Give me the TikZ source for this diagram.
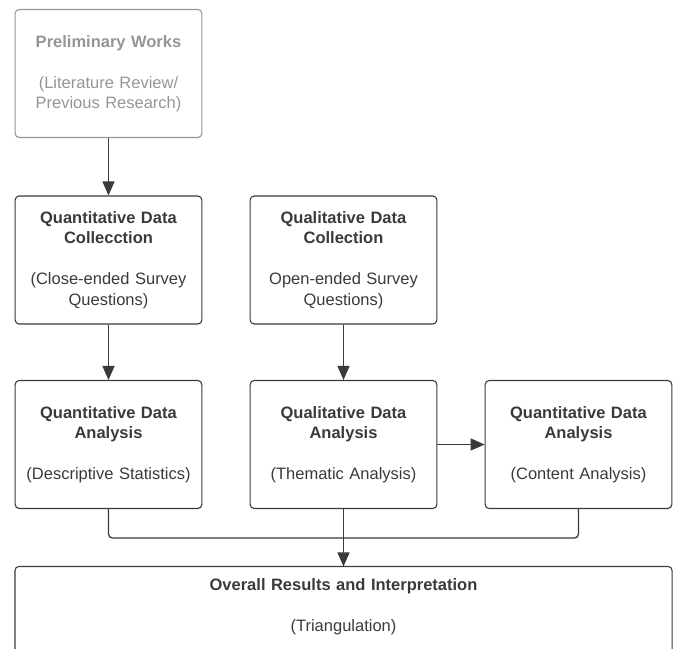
\documentclass[tikz,border=0pt]{standalone}
\usepackage{fontspec}
\setmainfont{Liberation Sans}
\usetikzlibrary{arrows.meta}
\definecolor{linegray}{HTML}{3A3A3A}
\definecolor{fadegray}{HTML}{959595}
\tikzset{
	box/.style={draw=linegray, line width=1.1pt, rounded corners=4pt, align=center,
		minimum width=185pt, minimum height=128pt, text width=180pt,
		font=\fontsize{16.5}{20.5}\selectfont, text=linegray},
	arrow/.style={draw=linegray, line width=1.3pt, -{Triangle[length=14pt,width=12pt]}},
}
\begin{document}
\begin{tikzpicture}[x=1pt, y=-1pt]
	\useasboundingbox (0, 0) rectangle (676, 648);

	\node[box, draw=fadegray, text=fadegray] (prelim) at (108.5, 73.5)
		{\textbf{Preliminary Works}\\[20.5pt](Literature Review/\\Previous Research)};
	\node[box] (qncoll) at (108.5, 260) {\textbf{Quantitative Data}\\\textbf{Collecction}\\[20.5pt](Close-ended Survey\\Questions)};
	\node[box] (qlcoll) at (343.5, 260) {\textbf{Qualitative Data}\\\textbf{Collection}\\[20.5pt]Open-ended Survey\\Questions)};
	\node[box] (qnana) at (108.5, 444.5) {\textbf{Quantitative Data}\\\textbf{Analysis}\\[20.5pt](Descriptive Statistics)};
	\node[box] (qlana) at (343.5, 444.5) {\textbf{Qualitative Data}\\\textbf{Analysis}\\[20.5pt](Thematic Analysis)};
	\node[box] (content) at (578.5, 444.5) {\textbf{Quantitative Data}\\\textbf{Analysis}\\[20.5pt](Content Analysis)};
	\node[box, draw=none, minimum width=656pt, text width=600pt, minimum height=80pt] (results) at (343.5, 607)
		{\textbf{Overall Results and Interpretation}\\[20.5pt](Triangulation)};
	% bottom edge runs off the page
	\draw[draw=linegray, line width=1.1pt, rounded corners=4pt] (results.north west) rectangle ([yshift=-20pt]results.south east);

	\coordinate (merge) at (343.5, 538);

	\draw[arrow] (prelim) -- (qncoll);
	\draw[arrow] (qncoll) -- (qnana);
	\draw[arrow] (qlcoll) -- (qlana);
	\draw[arrow] (qlana) -- (content);
	\draw[draw=linegray, line width=1.3pt, rounded corners=4pt] (qnana.south) |- (merge) -| (content.south);
	\draw[arrow] (qlana) -- (results);
\end{tikzpicture}
\end{document}
